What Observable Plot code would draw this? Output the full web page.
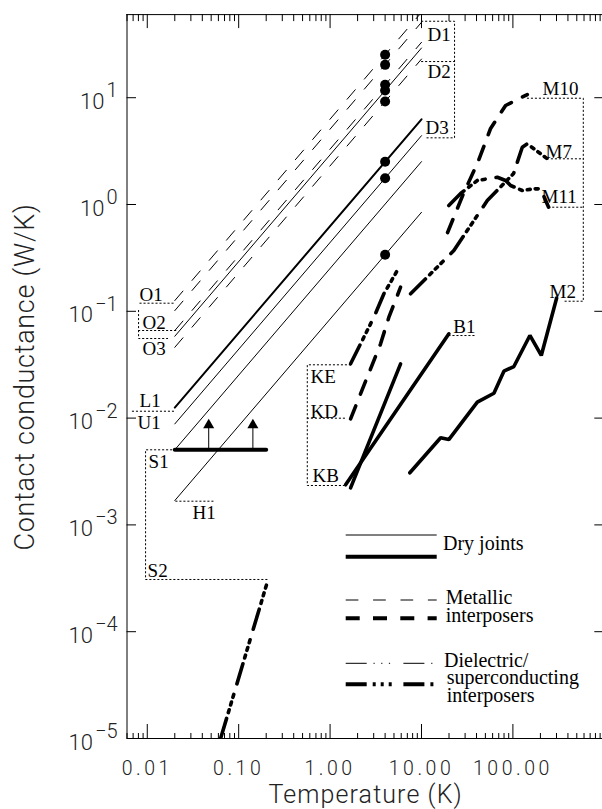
<!DOCTYPE html>
<html><head><meta charset="utf-8">
<script src="https://cdn.jsdelivr.net/npm/d3@7"></script>
<script src="https://cdn.jsdelivr.net/npm/@observablehq/plot@0.6"></script>
<style>html,body{margin:0;padding:0;background:#fff;}</style>
</head><body><div id="chart"></div>
<script>
// ---------- axis ticks ----------
const xMajorTicks = [0.01, 0.1, 1, 10, 100];
const xTickLabels = ["0.01", "0.10", "1.00", "10.00", "100.00"];
const yMajorTicks = [1e-5, 1e-4, 1e-3, 1e-2, 1e-1, 1, 10];
const yExponents = ["−5", "−4", "−3", "−2", "−1", "0", "1"];
const xMinorTicks = [];
for (const d of [0.001, 0.01, 0.1, 1, 10, 100]) for (let m = 2; m <= 9; m++) { const v = d * m; if (v > 0.0059 && v < 1000) xMinorTicks.push(v); }
const xTitle = "Temperature (K)";
const yTitle = "Contact conductance (W/K)";

// ---------- dry joints (solid, G proportional to T) ----------
const lineT = [0.02, 10];
const dryThinU1 = [0.00882, 4.41];
const dryThinS1 = [0.00505, 2.52];
const dryThinH1 = [0.00169, 0.845];
const dryThinUp = [0.0584, 29.2];
const dryThickL1 = [0.01255, 6.27];
// ---------- metallic interposers, thin dashed ----------
const metO1 = [0.126, 63.0];
const metO1b = [0.1015, 50.8];
const metO2 = [0.066, 33.0];
const metO3 = [0.046, 23.0];
// ---------- measured points at 4 K ----------
const dotT = [4, 4, 4, 4, 4, 4, 4, 4];
const dotG = [25.2, 20.3, 13.2, 11.68, 9.21, 2.51, 1.763, 0.338];
// ---------- S1 lower bound with arrows ----------
const s1T = [0.02, 0.2];
const s1G = [0.00505, 0.00505];
const arrowT = [0.047, 0.143];
const arrowG0 = 0.00505, arrowG1 = 0.0086;
// ---------- thick solid curves ----------
const kbT = [1.676, 5.905];
const kbG = [0.002225, 0.03224];
const b1T = [1.478, 19.94];
const b1G = [0.002374, 0.0616];
const m2T = [7.46, 16.2, 19.9, 40.8, 62.0, 79.7, 102.5, 153.5, 204.5, 300.7];
const m2G = [0.003075, 0.00654, 0.0063, 0.01409, 0.0171, 0.0275, 0.0304, 0.0594, 0.0386, 0.1327];
// ---------- thick dashed curves ----------
const kdT = [1.676, 3.568, 4.398, 5.905];
const kdG = [0.00985, 0.0496, 0.0881, 0.1681];
const m10T = [19.3, 28.2, 42.1, 57.0, 83.2, 143.7];
const m10G = [0.5467, 1.214, 2.582, 5.148, 8.45, 10.71];
// ---------- thick dash-dot-dot-dot curves ----------
const keT = [1.676, 3.015, 3.878, 5.436];
const keG = [0.03224, 0.0881, 0.1458, 0.241];
const m7T = [7.60, 22.6, 52.5, 101.8, 126.7, 143.7, 237.8];
const m7G = [0.1458, 0.371, 1.09, 1.951, 3.44, 3.70, 2.679];
const m11T = [19.9, 26.8, 40.8, 52.5, 67.5, 83.2, 94.4, 126.7, 169.7, 201, 245.8];
const m11G = [0.9786, 1.268, 1.678, 1.740, 1.801, 1.678, 1.506, 1.352, 1.402, 1.402, 0.9434];
const s2T = [0.0634, 0.2056];
const s2G = [1e-5, 2.91e-4];

// ---------- labels ----------
const labelNames = ["O1","O2","O3","L1","U1","S1","H1","S2","D1","D2","D3","M10","M7","M11","M2","B1","KE","KD","KB"];
const labelT = [0.00824,0.00888,0.00888,0.00824,0.00783,0.01033,0.0313,0.01008,11.66,11.66,11.09,211.3,228,206,252,22.28,0.612,0.612,0.6434];
const labelG = [0.1262,0.0690,0.03857,0.01257,0.00799,0.003375,0.001148,3.218e-4,34.3,15.13,4.62,10.49,2.755,1.022,0.1346,0.0633,0.02154,0.01013,0.002495];

// ---------- dotted leader paths ----------
const leaders = [
  [[0.0083, 0.1191], [0.0205, 0.1191]],
  [[0.0205, 0.0661], [0.00803, 0.0661], [0.00803, 0.1062]],
  [[0.00803, 0.0661], [0.00803, 0.0556], [0.0167, 0.0556]],
  [[0.00686, 0.0116], [0.0205, 0.0116]],
  [[0.0205, 0.005048], [0.00958, 0.005048], [0.00958, 3.083e-4], [0.2056, 3.083e-4]],
  [[0.0205, 0.001667], [0.0531, 0.001667]],
  [[10, 52.0], [23.0, 52.0], [23.0, 4.21], [11.1, 4.21]],
  [[10, 21.8], [23.0, 21.8]],
  [[143.7, 9.89], [589, 9.89], [589, 0.1243], [358.6, 0.1243]],
  [[237.8, 2.679], [589, 2.679]],
  [[245.8, 0.9434], [589, 0.9434]],
  [[19.9, 0.0593], [39.1, 0.0593]],
  [[1.676, 0.03155], [0.563, 0.03155], [0.563, 0.002338], [1.416, 0.002338]],
  [[0.563, 0.009979], [1.542, 0.009979]]
];

// ---------- legend ----------
const legendRows = [
  {w: 1, dash: null},
  {w: 4, dash: null},
  {w: 1, dash: "12.7,14.7"},
  {w: 4, dash: "14,13.3"},
  {w: 1, dash: "21,6.8,1.2,6.5,1.2,6.5,1.2,13.3"},
  {w: 4, dash: "21,6,3,5,3,5,3,11.7"}
];
const legendTexts = [["Dry joints"], ["Metallic", "interposers"], ["Dielectric/", "superconducting", "interposers"]];

const pts = (T, G) => T.map((t, i) => ({T: t, G: G[i]}));
const K = "#000";
const thin = 1, thick = 3.6;
const DASH_THIN = "12.5,14";
const DASH_THICK = "14,12.5";
const DDD_THICK = "21,6,3,5,3,5,3,11";
const LEAD = "1.3,2.7";

const frameW = 603.8 - 126.5, frameH = 738 - 14.1;
const tickFont = "Roboto, 'Liberation Sans', sans-serif";
const serif = "'Liberation Serif', 'Times New Roman', serif";

const ln = (T, G, o) => Plot.line(pts(T, G), {x: "T", y: "G", stroke: K, clip: true, ...o});

const svg = Plot.plot({
  width: 602, height: 809,
  marginLeft: 126.5, marginRight: -1.8, marginTop: 14.1, marginBottom: 71,
  x: {type: "log", domain: [0.006, 1000], axis: null},
  y: {type: "log", domain: [1e-5, 60], axis: null},
  style: {background: "#fff", overflow: "hidden"},
  marks: [
    Plot.ruleX([0.006], {stroke: K, strokeWidth: 1}),
    Plot.ruleY([60, 1e-5], {stroke: K, strokeWidth: 1}),
    Plot.tickY(yMajorTicks, {y: d => d, insetRight: frameW - 9.5, stroke: K}),
    Plot.tickY(yMajorTicks, {y: d => d, insetLeft: frameW - 9.5, stroke: K}),
    Plot.tickX(xMajorTicks, {x: d => d, insetBottom: frameH - 14, stroke: K}),
    Plot.tickX(xMinorTicks, {x: d => d, insetBottom: frameH - 7, stroke: K}),
    Plot.tickX(xMajorTicks, {x: d => d, insetTop: frameH - 14, stroke: K}),
    Plot.tickX(xMinorTicks, {x: d => d, insetTop: frameH - 5, stroke: K}),
    Plot.text(xMajorTicks, {x: d => d, text: (d, i) => xTickLabels[i], frameAnchor: "bottom", lineAnchor: "bottom", dy: 36, fontSize: 19.5, fontFamily: tickFont, fontWeight: 300, fill: "#222"}),
    Plot.text(yMajorTicks, {y: d => d, text: (d, i) => "10^" + yExponents[i], frameAnchor: "left", textAnchor: "end", lineAnchor: "bottom", dx: -9.5, dy: 11, fontSize: 22, fontFamily: tickFont, fontWeight: 300, fill: "#222"}),
    Plot.text([xTitle], {frameAnchor: "bottom", lineAnchor: "bottom", dy: 64, fontSize: 25, fontFamily: tickFont, fontWeight: 300, fill: "#222"}),
    Plot.text([yTitle], {frameAnchor: "left", lineAnchor: "bottom", fontSize: 27, fontFamily: tickFont, fontWeight: 300, fill: "#222"}),
    ...leaders.map(p => Plot.line(p, {x: d => d[0], y: d => d[1], stroke: K, strokeWidth: 1, strokeDasharray: LEAD})),
    ln(lineT, dryThinU1, {strokeWidth: thin}),
    ln(lineT, dryThinS1, {strokeWidth: thin}),
    ln(lineT, dryThinH1, {strokeWidth: thin}),
    ln(lineT, dryThinUp, {strokeWidth: thin}),
    ln(lineT, dryThickL1, {strokeWidth: 2}),
    ln(lineT, metO1, {strokeWidth: thin, strokeDasharray: DASH_THIN}),
    ln(lineT, metO1b, {strokeWidth: thin, strokeDasharray: DASH_THIN}),
    ln(lineT, metO2, {strokeWidth: thin, strokeDasharray: DASH_THIN}),
    ln(lineT, metO3, {strokeWidth: thin, strokeDasharray: DASH_THIN}),
    ln(s1T, s1G, {strokeWidth: 4}),
    Plot.link(arrowT, {x1: d => d, x2: d => d, y1: () => arrowG0, y2: () => arrowG1, stroke: K, strokeWidth: 1}),
    Plot.dot(arrowT, {x: d => d, y: () => arrowG1, symbol: "triangle", r: 4.1, fill: K, stroke: null}),
    ln(kbT, kbG, {strokeWidth: thick}),
    ln(b1T, b1G, {strokeWidth: thick}),
    ln(m2T, m2G, {strokeWidth: thick, strokeLinejoin: "miter"}),
    ln(kdT, kdG, {strokeWidth: thick, strokeDasharray: DASH_THICK}),
    ln(m10T, m10G, {strokeWidth: thick, strokeDasharray: DASH_THICK}),
    ln(keT, keG, {strokeWidth: thick, strokeDasharray: DDD_THICK}),
    ln(m7T, m7G, {strokeWidth: thick, strokeDasharray: DDD_THICK}),
    ln(m11T, m11G, {strokeWidth: thick, strokeDasharray: DDD_THICK}),
    ln(s2T, s2G, {strokeWidth: thick, strokeDasharray: DDD_THICK}),
    Plot.dot(pts(dotT, dotG), {x: "T", y: "G", r: 5, fill: K, stroke: null}),
    Plot.text(labelNames, {x: (d, i) => labelT[i], y: (d, i) => labelG[i], text: d => d, textAnchor: "start", lineAnchor: "bottom", fontFamily: serif, fontSize: 19, fill: K})
  ]
});

const S = d3.select(svg);
S.selectAll("text").each(function () {
  const s = this.textContent;
  const t = d3.select(this);
  if (s.includes("^")) {
    const [base, exp] = s.split("^");
    t.text(base);
    t.append("tspan").attr("dx", 2).attr("dy", -11.5).attr("font-size", 20).text(exp);
  } else if (xTickLabels.includes(s)) {
    t.style("letter-spacing", "3.5px");
  } else if (s === xTitle) {
    t.style("letter-spacing", "1.1px");
  } else if (s === yTitle) {
    t.attr("transform", "translate(33,376.5) rotate(-90)").attr("x", null).attr("y", null)
     .attr("text-anchor", "middle").style("letter-spacing", "0.7px");
  }
});

// legend (pixel layout inside the frame)
const legX1 = 345.7, legX2 = 436.7;
const legRowY = [535, 556.7, 600, 618.3, 663.3, 684.3];
const legTextX = [[443], [445.7, 445.7], [444, 446.7, 446.7]];
const legTextY = [550, 604, 666.5];
const legLineGap = 17.6;
const lg = S.append("g").attr("aria-label", "legend");
legendRows.forEach((r, i) => {
  lg.append("line").attr("x1", legX1).attr("x2", legX2).attr("y1", legRowY[i]).attr("y2", legRowY[i])
    .attr("stroke", K).attr("stroke-width", r.w).attr("stroke-dasharray", r.dash);
});
legendTexts.forEach((lines, i) => {
  const t = lg.append("text").attr("y", legTextY[i]).attr("text-anchor", "start")
    .attr("font-family", serif).attr("font-size", 20).attr("fill", K);
  lines.forEach((s, j) => {
    t.append("tspan").attr("x", legTextX[i][j]).attr("dy", j ? legLineGap : 0).text(s);
  });
});

document.getElementById("chart").appendChild(svg);
</script>
</body></html>
